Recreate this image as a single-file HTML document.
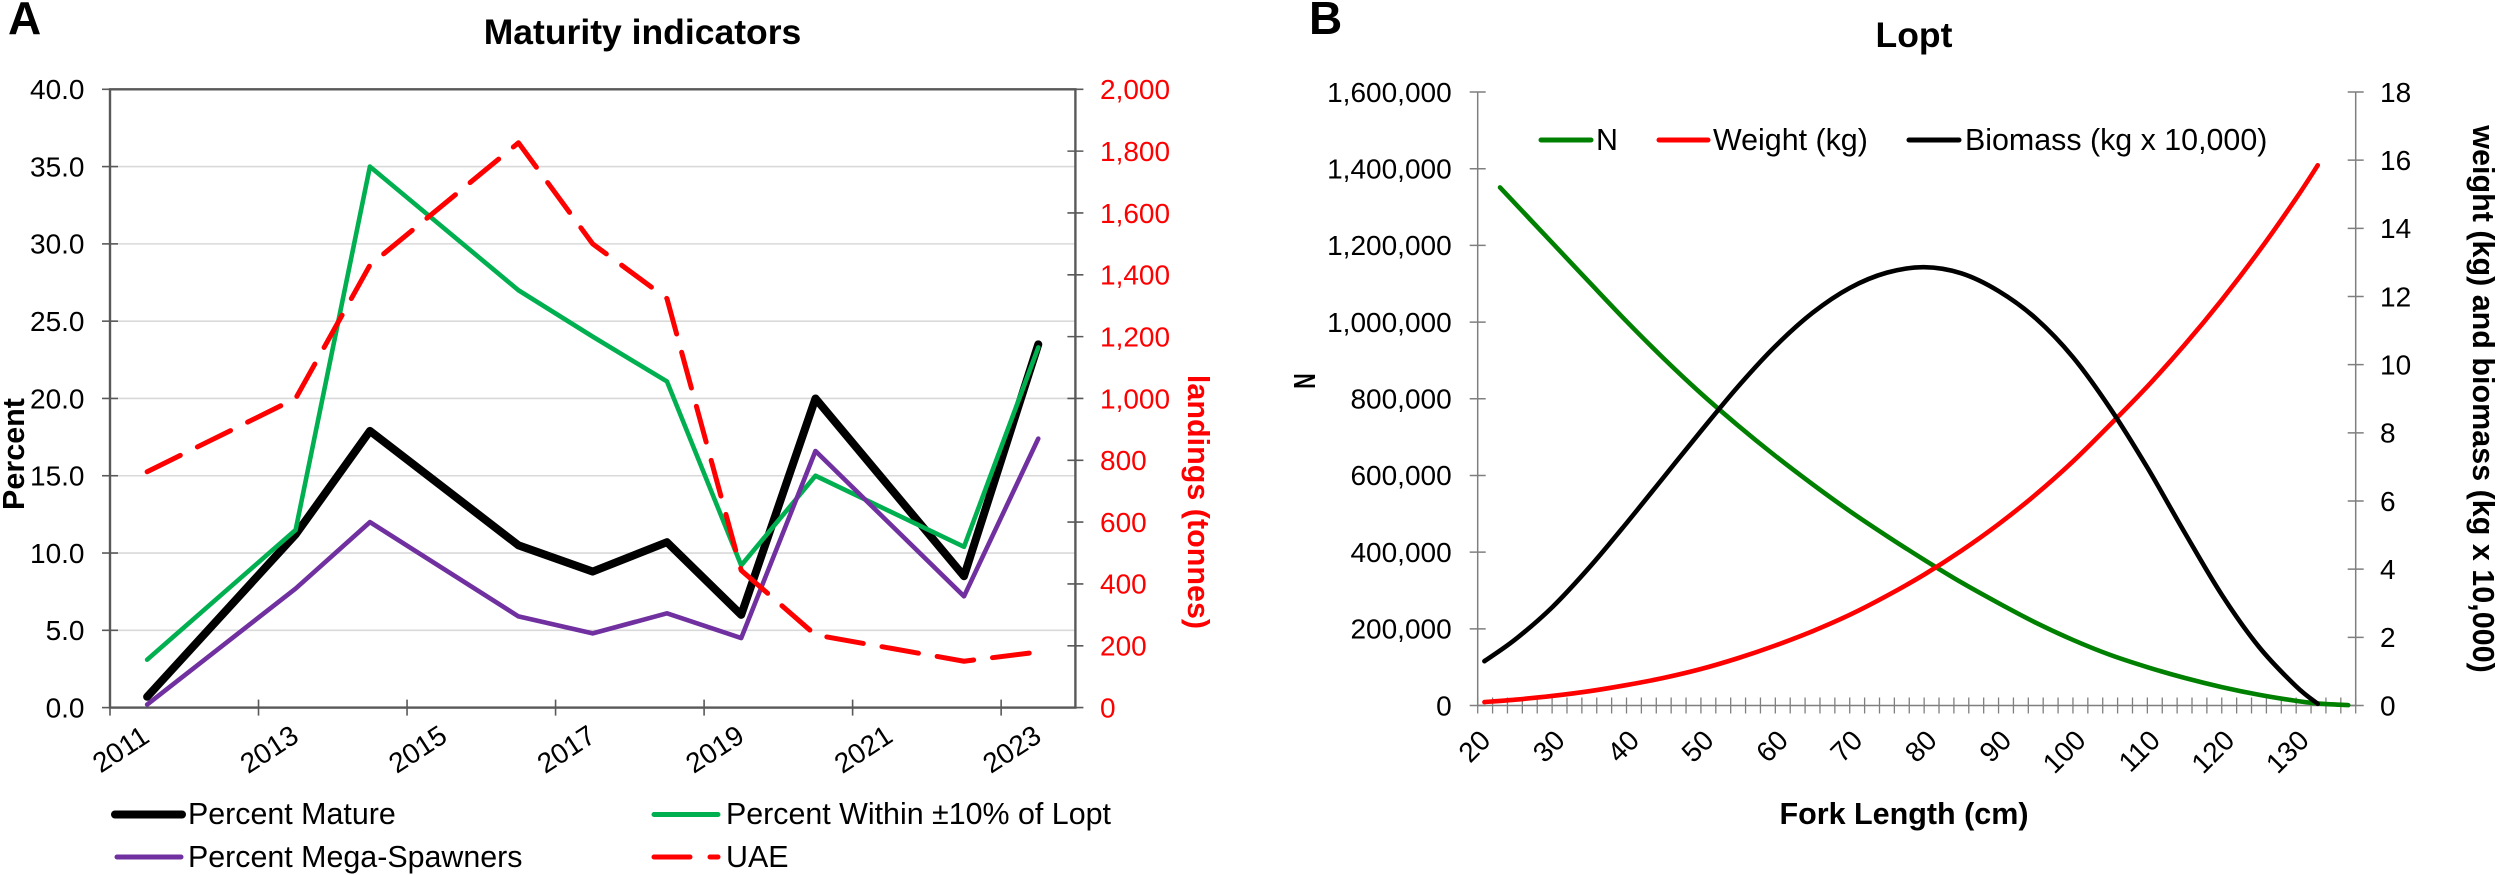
<!DOCTYPE html>
<html lang="en">
<head>
<meta charset="utf-8">
<title>Maturity indicators and Lopt</title>
<style>
html,body{margin:0;padding:0;background:#fff;}
svg{display:block;font-family:"Liberation Sans",Arial,sans-serif;}
text{fill:#000;}
.t{font-size:28px;}
.l{font-size:30.4px;}
.b{font-weight:bold;font-size:30.5px;}
.title{font-weight:bold;font-size:35.5px;text-anchor:middle;}
.panel{font-weight:bold;font-size:46px;}
</style>
</head>
<body>
<svg id="fig" xmlns="http://www.w3.org/2000/svg" width="2500" height="875" viewBox="0 0 2500 875">
  <rect x="0" y="0" width="2500" height="875" fill="#fff"/>
  <g id="gridA"></g>
  <g id="axesA"></g>
  <g id="marksA"></g>
  <g id="axesB"></g>
  <g id="marksB"></g>

  <text class="panel" x="8" y="34">A</text>
  <text class="title" x="642.5" y="44">Maturity indicators</text>
  <text class="b" transform="translate(24,454) rotate(-90)" text-anchor="middle">Percent</text>
  <text class="b" style="fill:#ff0000" transform="translate(1188,502) rotate(90)" text-anchor="middle">landings (tonnes)</text>

  <g>
    <g>
      <line x1="115" y1="814.5" x2="182" y2="814.5" stroke="#000" stroke-width="8" stroke-linecap="round"/>
      <text class="l" x="188" y="824">Percent Mature</text>
    </g>
    <g>
      <line x1="117" y1="857" x2="181" y2="857" stroke="#7030a0" stroke-width="5" stroke-linecap="round"/>
      <text class="l" x="188" y="867">Percent Mega-Spawners</text>
    </g>
    <g>
      <line x1="654" y1="814.5" x2="718" y2="814.5" stroke="#00b050" stroke-width="5" stroke-linecap="round"/>
      <text class="l" x="726" y="824">Percent Within ±10% of Lopt</text>
    </g>
    <g>
      <line x1="654" y1="857" x2="690" y2="857" stroke="#ff0000" stroke-width="5" stroke-linecap="round"/>
      <line x1="710" y1="857" x2="718" y2="857" stroke="#ff0000" stroke-width="5" stroke-linecap="round"/>
      <text class="l" x="726" y="867">UAE</text>
    </g>
  </g>

  <text class="panel" x="1309" y="34">B</text>
  <text class="title" x="1914" y="47">Lopt</text>
  <text class="b" transform="translate(1315,381) rotate(-90) scale(0.7,1)" text-anchor="middle">N</text>
  <text class="b" transform="translate(2473,399) rotate(90)" text-anchor="middle">weight (kg) and biomass (kg x 10,000)</text>
  <text class="b" x="1904" y="824" text-anchor="middle">Fork Length (cm)</text>

  <g>
    <g>
      <line x1="1541" y1="140" x2="1591" y2="140" stroke="#008000" stroke-width="5" stroke-linecap="round"/>
      <text class="l" x="1596" y="150">N</text>
    </g>
    <g>
      <line x1="1659" y1="140" x2="1708" y2="140" stroke="#ff0000" stroke-width="5" stroke-linecap="round"/>
      <text class="l" x="1713" y="150">Weight (kg)</text>
    </g>
    <g>
      <line x1="1909" y1="140" x2="1959" y2="140" stroke="#000" stroke-width="5" stroke-linecap="round"/>
      <text class="l" x="1965" y="150">Biomass (kg x 10,000)</text>
    </g>
  </g>
</svg>
<script>
// Chart A data
const yearsA = [2011.5, 2013.5, 2014.5, 2016.5, 2017.5, 2018.5, 2019.5, 2020.5, 2022.5, 2023.5];
const percentMature = [0.7, 11.2, 17.9, 10.5, 8.8, 10.7, 6.0, 20.0, 8.5, 23.5];
const percentWithin = [3.1, 11.5, 35.0, 27.0, 24.0, 21.1, 9.2, 15.0, 10.4, 23.3];
const percentMega = [0.2, 7.7, 12.0, 5.9, 4.8, 6.1, 4.5, 16.6, 7.2, 17.4];
const uaeLandings = [763, 1000, 1431, 1827, 1500, 1323, 444, 235, 150, 180];
const percentTicks = [0, 5, 10, 15, 20, 25, 30, 35, 40];
const percentTickLabels = ['0.0', '5.0', '10.0', '15.0', '20.0', '25.0', '30.0', '35.0', '40.0'];
const landingTicks = [0, 200, 400, 600, 800, 1000, 1200, 1400, 1600, 1800, 2000];
const landingTickLabels = ['0', '200', '400', '600', '800', '1,000', '1,200', '1,400', '1,600', '1,800', '2,000'];
const yearTicks = [2011, 2013, 2015, 2017, 2019, 2021, 2023];

// Chart B data
const lengthsN = [23, 30, 35, 40, 45, 50, 55, 60, 65, 70, 75, 80, 85, 90, 95, 100, 105, 110, 115, 120, 125, 130, 133, 137];
const valuesN = [1351000, 1207000, 1104000, 1002000, 905000, 814000, 730000, 651000, 577000, 507000, 442000, 380000, 321000, 267000, 216000, 171000, 132000, 100000, 72000, 48000, 28000, 12000, 5000, 1000];
const lengthsWB = [20.9, 25, 30, 35, 40, 45, 50, 55, 60, 65, 70, 75, 80, 85, 90, 95, 100, 105, 110, 115, 120, 125, 130, 132.9];
const valuesWeight = [0.10, 0.17, 0.28, 0.42, 0.60, 0.81, 1.07, 1.39, 1.76, 2.18, 2.66, 3.22, 3.84, 4.54, 5.32, 6.19, 7.16, 8.24, 9.36, 10.58, 11.90, 13.33, 14.88, 15.85];
const valuesBiomass = [1.30, 1.93, 2.88, 4.05, 5.35, 6.70, 8.05, 9.36, 10.54, 11.52, 12.25, 12.70, 12.86, 12.68, 12.16, 11.36, 10.22, 8.72, 6.98, 5.08, 3.25, 1.72, 0.56, 0.05];
const nTicks = [0, 200000, 400000, 600000, 800000, 1000000, 1200000, 1400000, 1600000];
const nTickLabels = ['0', '200,000', '400,000', '600,000', '800,000', '1,000,000', '1,200,000', '1,400,000', '1,600,000'];
const rightTicksB = [0, 2, 4, 6, 8, 10, 12, 14, 16, 18];
const lengthLabels = [20, 30, 40, 50, 60, 70, 80, 90, 100, 110, 120, 130];

const NS = 'http://www.w3.org/2000/svg';
function make(tag, parent, props) {
  const node = document.createElementNS(NS, tag);
  for (const k in props) node.setAttribute(k, props[k]);
  parent.appendChild(node);
  return node;
}
function scale(d0, d1, r0, r1) {
  return function (v) { return r0 + (v - d0) * (r1 - r0) / (d1 - d0); };
}
function straightPath(xs, ys, fx, fy) {
  return xs.map(function (x, i) { return (i ? 'L' : 'M') + fx(x).toFixed(2) + ' ' + fy(ys[i]).toFixed(2); }).join(' ');
}
function smoothPath(xs, ys, fx, fy) {
  const p = xs.map(function (x, i) { return [fx(x), fy(ys[i])]; });
  let d = 'M' + p[0][0].toFixed(2) + ' ' + p[0][1].toFixed(2);
  for (let i = 0; i < p.length - 1; i++) {
    const a = p[Math.max(0, i - 1)], b = p[i], c = p[i + 1], e = p[Math.min(p.length - 1, i + 2)];
    const c1x = b[0] + (c[0] - a[0]) / 6, c1y = b[1] + (c[1] - a[1]) / 6;
    const c2x = c[0] - (e[0] - b[0]) / 6, c2y = c[1] - (e[1] - b[1]) / 6;
    d += ' C' + c1x.toFixed(2) + ' ' + c1y.toFixed(2) + ' ' + c2x.toFixed(2) + ' ' + c2y.toFixed(2) + ' ' + c[0].toFixed(2) + ' ' + c[1].toFixed(2);
  }
  return d;
}

/* ---------- Chart A ---------- */
const aL = 110, aR = 1075.4, aT = 89.3, aB = 707.6;
const xA = scale(2011, 2024, aL, aR);
const yPct = scale(0, 40, aB, aT);
const yLand = scale(0, 2000, aB, aT);
const gridA = document.getElementById('gridA');
const axesA = document.getElementById('axesA');
const marksA = document.getElementById('marksA');
const axisColorA = '#595959';

percentTicks.forEach(function (v, i) {
  if (v > 0 && v < 40) {
    const g = make('line', gridA, { x1: aL, x2: aR, y1: yPct(v), y2: yPct(v), stroke: '#d9d9d9', 'stroke-width': 1.6 });
    
    
  }
  const t = make('line', axesA, { x1: aL - 8, x2: aL + 8, y1: yPct(v), y2: yPct(v), stroke: axisColorA, 'stroke-width': 1.6 });
  
  
  const lb = make('text', axesA, { x: 84.5, y: yPct(v), dy: '0.35em', 'text-anchor': 'end', class: 't' });
  lb.textContent = percentTickLabels[i];
  
  
});
landingTicks.forEach(function (v, i) {
  const t = make('line', axesA, { x1: aR - 8, x2: aR + 8, y1: yLand(v), y2: yLand(v), stroke: axisColorA, 'stroke-width': 1.6 });
  
  
  const lb = make('text', axesA, { x: 1100, y: yLand(v), dy: '0.35em', class: 't', style: 'fill:#ff0000' });
  lb.textContent = landingTickLabels[i];
  
  
});
yearTicks.forEach(function (v) {
  const t = make('line', axesA, { x1: xA(v), x2: xA(v), y1: aB - 8, y2: aB + 8, stroke: axisColorA, 'stroke-width': 1.6 });
  
  
  const cx = xA(v) + 10.5, cy = 749;
  const lb = make('text', axesA, { x: cx, y: cy, dy: '0.35em', 'text-anchor': 'middle', style: 'font-size:28px', transform: 'rotate(-33 ' + cx + ' ' + cy + ')' });
  lb.textContent = String(v);
  
  
});
const frameA = make('rect', axesA, { x: aL, y: aT, width: aR - aL, height: aB - aT, fill: 'none', stroke: axisColorA, 'stroke-width': 2.4 });



const lineMature = make('path', marksA, { d: straightPath(yearsA, percentMature, xA, yPct), fill: 'none', stroke: '#000', 'stroke-width': 8, 'stroke-linejoin': 'round', 'stroke-linecap': 'round' });


const lineWithin = make('path', marksA, { d: straightPath(yearsA, percentWithin, xA, yPct), fill: 'none', stroke: '#00b050', 'stroke-width': 4.6, 'stroke-linejoin': 'round', 'stroke-linecap': 'round' });


const lineMega = make('path', marksA, { d: straightPath(yearsA, percentMega, xA, yPct), fill: 'none', stroke: '#7030a0', 'stroke-width': 4.6, 'stroke-linejoin': 'round', 'stroke-linecap': 'round' });


const lineUae = make('path', marksA, { d: straightPath(yearsA, uaeLandings, xA, yLand), fill: 'none', stroke: '#ff0000', 'stroke-width': 5, 'stroke-linejoin': 'round', 'stroke-linecap': 'round', 'stroke-dasharray': '37 19' });



/* ---------- Chart B ---------- */
const bL = 1477.7, bR = 2355.7, bT = 92, bB = 705.5;
const xB = scale(20, 138, bL, bR);
const yN = scale(0, 1600000, bB, bT);
const yW = scale(0, 18, bB, bT);
const axesB = document.getElementById('axesB');
const marksB = document.getElementById('marksB');
const axisColorB = '#7f7f7f';

[[bL, bL, bT, bB, 'chart-b-left-axis'], [bR, bR, bT, bB, 'chart-b-right-axis'], [bL, bR, bB, bB, 'chart-b-x-axis']].forEach(function (a) {
  const ln = make('line', axesB, { x1: a[0], x2: a[1], y1: a[2], y2: a[3], stroke: axisColorB, 'stroke-width': 1.5 });
  
  
});
nTicks.forEach(function (v, i) {
  const t = make('line', axesB, { x1: bL - 8, x2: bL + 8, y1: yN(v), y2: yN(v), stroke: axisColorB, 'stroke-width': 1.5 });
  
  
  const lb = make('text', axesB, { x: 1451.7, y: yN(v), dy: '0.35em', 'text-anchor': 'end', class: 't' });
  lb.textContent = nTickLabels[i];
  
  
});
rightTicksB.forEach(function (v) {
  const t = make('line', axesB, { x1: bR - 8, x2: bR + 8, y1: yW(v), y2: yW(v), stroke: axisColorB, 'stroke-width': 1.5 });
  
  
  const lb = make('text', axesB, { x: 2380, y: yW(v), dy: '0.35em', class: 't' });
  lb.textContent = String(v);
  
  
});
for (let c = 20; c <= 138; c += 2) {
  const t = make('line', axesB, { x1: xB(c), x2: xB(c), y1: bB - 8, y2: bB + 8, stroke: axisColorB, 'stroke-width': 1.3 });
  
  
}
lengthLabels.forEach(function (v) {
  const ax = xB(v) + 7.5, ay = 735;
  const lb = make('text', axesB, { x: ax, y: ay, dy: '0.35em', 'text-anchor': 'end', style: 'font-size:28px', transform: 'rotate(-45 ' + ax + ' ' + ay + ')' });
  lb.textContent = String(v);
  
  
});

const curveN = make('path', marksB, { d: smoothPath(lengthsN, valuesN, xB, yN), fill: 'none', stroke: '#008000', 'stroke-width': 4.6, 'stroke-linecap': 'round', 'stroke-linejoin': 'round' });


const curveWeight = make('path', marksB, { d: smoothPath(lengthsWB, valuesWeight, xB, yW), fill: 'none', stroke: '#ff0000', 'stroke-width': 4.6, 'stroke-linecap': 'round', 'stroke-linejoin': 'round' });


const curveBiomass = make('path', marksB, { d: smoothPath(lengthsWB, valuesBiomass, xB, yW), fill: 'none', stroke: '#000', 'stroke-width': 4.6, 'stroke-linecap': 'round', 'stroke-linejoin': 'round' });


</script>
</body>
</html>
